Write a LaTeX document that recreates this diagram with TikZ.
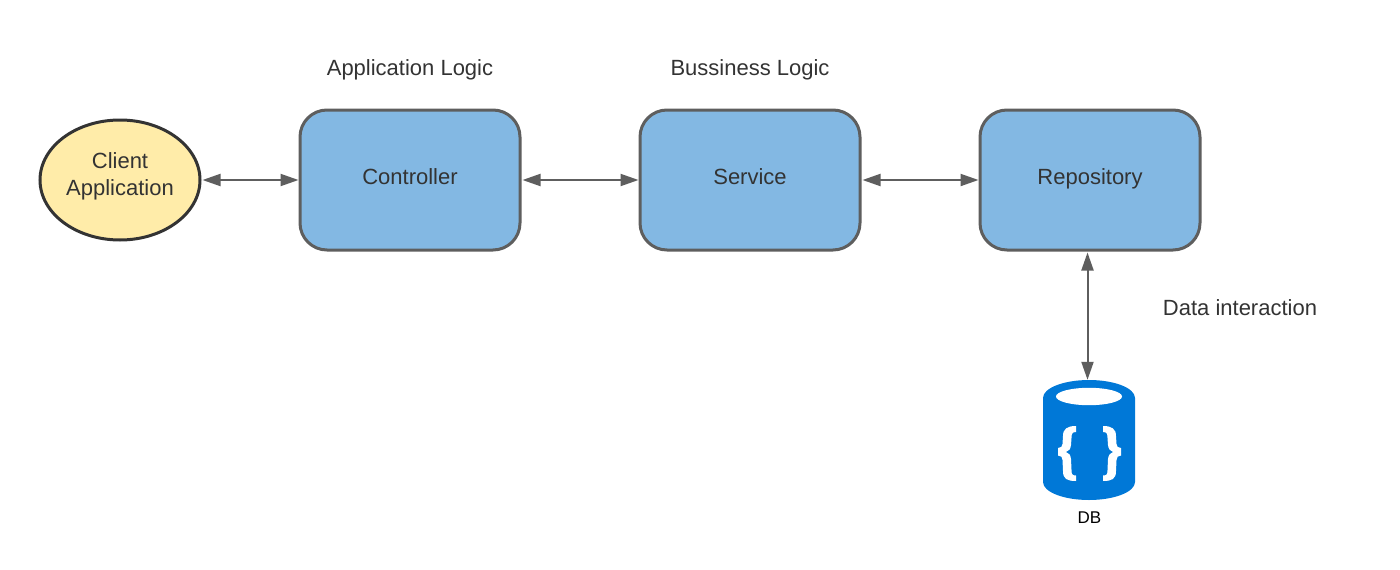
\documentclass[tikz,border=0pt]{standalone}
\usepackage{fontspec}
\setmainfont{Liberation Sans}
\usetikzlibrary{arrows.meta,shapes.geometric}
\definecolor{boxfill}{HTML}{83B8E3}
\definecolor{boxline}{HTML}{5E5E5E}
\definecolor{ellfill}{HTML}{FFECA9}
\definecolor{ellline}{HTML}{333333}
\definecolor{txt}{HTML}{333333}
\definecolor{dbblue}{HTML}{0078D7}
\tikzset{
  lbl/.style={font=\fontsize{22}{27}\selectfont,text=txt,inner sep=0pt,align=center},
  layerbox/.style={draw=boxline,fill=boxfill,line width=3pt,rounded corners=27pt,
    minimum width=220pt,minimum height=140pt,inner sep=0pt,outer sep=1.5pt,
    font=\fontsize{22}{27}\selectfont,text=txt,text height=15pt,text depth=7pt},
  clientell/.style={ellipse,draw=ellline,fill=ellfill,line width=3pt,
    minimum width=160pt,minimum height=120pt,inner sep=0pt,outer sep=1.5pt},
  link/.style={draw=boxline,line width=2pt,{Stealth[length=18pt,width=12pt,inset=0pt]}-{Stealth[length=18pt,width=12pt,inset=0pt]},shorten >=0pt,shorten <=1pt},
  bracestroke/.style={fill=white}
}
\begin{document}
\begin{tikzpicture}[x=1pt,y=-1pt]
\path[use as bounding box,fill=white] (0,0) rectangle (1400,570);
\node[clientell] (client) at (120,180) {};
\node[lbl] (clientlabel) at (120,176) {Client\\Application};
\node[layerbox] (ctrl) at (410,180) {Controller};
\node[layerbox] (svc) at (750,180) {Service};
\node[layerbox] (repo) at (1090,180) {Repository};
\node[lbl] (applabel) at (410,70) {Application Logic};
\node[lbl] (buslabel) at (750,70) {Bussiness Logic};
\node[lbl] (datalabel) at (1240,308) {Data interaction};
% database shape
\fill[dbblue] (1043,398) arc[start angle=180,end angle=360,x radius=46,y radius=18]
  -- (1135,482) arc[start angle=0,end angle=180,x radius=46,y radius=18] -- cycle;
\fill[white] (1089,396.5) ellipse[x radius=33,y radius=8.7];
\fill[bracestroke] (1076,426) -- (1076,432) .. controls (1072,432) and (1071.5,434) .. (1071.5,438)
  -- (1071,445) .. controls (1070.5,449) and (1069,451) .. (1066,452)
  .. controls (1069,453) and (1070.5,455) .. (1071,459)
  -- (1071.5,470) .. controls (1071.5,474) and (1072,475.5) .. (1076,475.5)
  -- (1076,481) .. controls (1067,481) and (1063,479) .. (1063,471)
  -- (1062.5,460) .. controls (1062.5,457) and (1061,455.5) .. (1058,455.5)
  -- (1058,448) .. controls (1061,448) and (1062.5,446.5) .. (1062.5,444)
  -- (1063,436) .. controls (1063,429) and (1067,426) .. (1076,426) -- cycle;
\fill[bracestroke] (1103,426) -- (1103,432) .. controls (1107,432) and (1107.5,434) .. (1107.5,438)
  -- (1108,445) .. controls (1108.5,449) and (1110,451) .. (1113,452)
  .. controls (1110,453) and (1108.5,455) .. (1108,459)
  -- (1107.5,470) .. controls (1107.5,474) and (1107,475.5) .. (1103,475.5)
  -- (1103,481) .. controls (1112,481) and (1116,479) .. (1116,471)
  -- (1116.5,460) .. controls (1116.5,457) and (1118,455.5) .. (1121,455.5)
  -- (1121,448) .. controls (1118,448) and (1116.5,446.5) .. (1116.5,444)
  -- (1116,436) .. controls (1116,429) and (1112,426) .. (1103,426) -- cycle;
\node[minimum width=92pt,minimum height=120pt,inner sep=0pt] (db) at (1089,440) {};
\node[font=\fontsize{17}{20}\selectfont,text=black,inner sep=0pt] (dblabel) at (1089.5,518) {DB};
% connectors
\draw[link] (client.east) -- (ctrl.west);
\draw[link] (ctrl.east) -- (svc.west);
\draw[link] (svc.east) -- (repo.west);
\draw[link] ([xshift=-2.5pt]repo.south) -- ([xshift=-1.5pt]db.north);
\end{tikzpicture}
\end{document}
